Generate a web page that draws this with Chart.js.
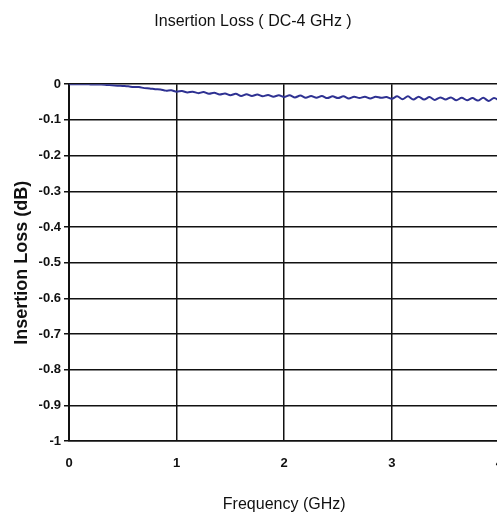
<!DOCTYPE html>
<html>
<head>
<meta charset="utf-8">
<script src="https://cdn.jsdelivr.net/npm/chart.js@4/dist/chart.umd.min.js"></script>
<style>
html,body{margin:0;padding:0;background:#fff;overflow:hidden;}
#wrap{position:absolute;left:0;top:0;width:517px;height:517px;}
</style>
</head>
<body>
<div id="wrap"><canvas id="c" width="517" height="517"></canvas></div>
<script>
const titleText = "Insertion Loss ( DC-4 GHz )";
const xTitle = "Frequency (GHz)";
const yTitle = "Insertion Loss (dB)";
const freqGHz = [0,0.05,0.1,0.15,0.2,0.25,0.3,0.35,0.4,0.45,0.5,0.55,0.6,0.65,0.7,0.75,0.8,0.85,0.9,0.95,
1.0,1.05,1.1,1.15,1.2,1.25,1.3,1.35,1.4,1.45,1.5,1.55,1.6,1.65,1.7,1.75,1.8,1.85,1.9,1.95,
2.0,2.05,2.1,2.15,2.2,2.25,2.3,2.35,2.4,2.45,2.5,2.55,2.6,2.65,2.7,2.75,2.8,2.85,2.9,2.95,
3.0,3.05,3.1,3.15,3.2,3.25,3.3,3.35,3.4,3.45,3.5,3.55,3.6,3.65,3.7,3.75,3.8,3.85,3.9,3.95,4.0];
const lossDB = [0,0,0,0,-0.0005,-0.001,-0.001,-0.002,-0.003,-0.004,-0.005,-0.006,-0.008,-0.008,-0.011,-0.012,-0.014,-0.015,-0.018,-0.017,
-0.021,-0.019,-0.023,-0.021,-0.025,-0.022,-0.027,-0.024,-0.029,-0.026,-0.031,-0.027,-0.033,-0.028,-0.033,-0.029,-0.034,-0.030,-0.035,-0.031,
-0.036,-0.031,-0.037,-0.032,-0.038,-0.033,-0.038,-0.033,-0.039,-0.034,-0.039,-0.034,-0.040,-0.035,-0.039,-0.035,-0.040,-0.035,-0.038,-0.036,
-0.041,-0.034,-0.042,-0.034,-0.043,-0.035,-0.043,-0.036,-0.044,-0.037,-0.043,-0.037,-0.045,-0.038,-0.045,-0.039,-0.046,-0.038,-0.047,-0.039,-0.046];
const yTicks = [0,-0.1,-0.2,-0.3,-0.4,-0.5,-0.6,-0.7,-0.8,-0.9,-1];
const xTicks = [0,1,2,3,4];

const narrow = "'Liberation Sans Narrow','Arial Narrow','Liberation Sans',sans-serif";
const points = freqGHz.map((x,i)=>({x:x,y:lossDB[i]}));

const shiftTitle = {
  id: 'shiftTitle',
  afterLayout(chart) {
    const tb = chart.titleBlock;
    if (tb) { tb.left -= 11; tb.right -= 11; }
  }
};

new Chart(document.getElementById('c'), {
  type: 'line',
  data: { datasets: [{ data: points, borderColor: '#2e3192', borderWidth: 2, pointRadius: 0, tension: 0.3, fill: false }] },
  plugins: [shiftTitle],
  options: {
    responsive: false, animation: false,
    layout: { padding: { left: 11, right: 0, top: 12, bottom: 3 } },
    plugins: {
      legend: { display: false }, tooltip: { enabled: false },
      title: { display: true, text: titleText, color: '#111', font: { family: narrow, size: 16, weight: 'normal' }, padding: { top: 0, bottom: 53 } }
    },
    scales: {
      x: {
        type: 'linear', min: 0, max: 4,
        afterBuildTicks: s => { s.ticks = xTicks.map(v=>({value:v})); },
        grid: { color: '#111', lineWidth: 1.5, drawTicks: false },
        border: { color: '#111', width: 1.5 },
        ticks: { color: '#111', padding: 14, font: { family: narrow, size: 13, weight: 'bold' } },
        title: { display: true, text: xTitle, color: '#111', font: { family: narrow, size: 16, weight: 'normal' }, padding: { top: 10, bottom: 0 } }
      },
      y: {
        type: 'linear', min: -1, max: 0,
        afterBuildTicks: s => { s.ticks = yTicks.map(v=>({value:v})); },
        afterFit: s => { s.width = 58; },
        grid: { color: '#111', lineWidth: 1.5, tickLength: 5 },
        border: { color: '#111', width: 2 },
        ticks: { color: '#111', padding: 3, font: { family: narrow, size: 13, weight: 'bold' }, callback: v => String(v) },
        title: { display: true, text: yTitle, color: '#111', font: { family: "'Liberation Sans',Arial,sans-serif", size: 18, weight: 'bold' }, padding: 0 }
      }
    }
  }
});
</script>
</body>
</html>
